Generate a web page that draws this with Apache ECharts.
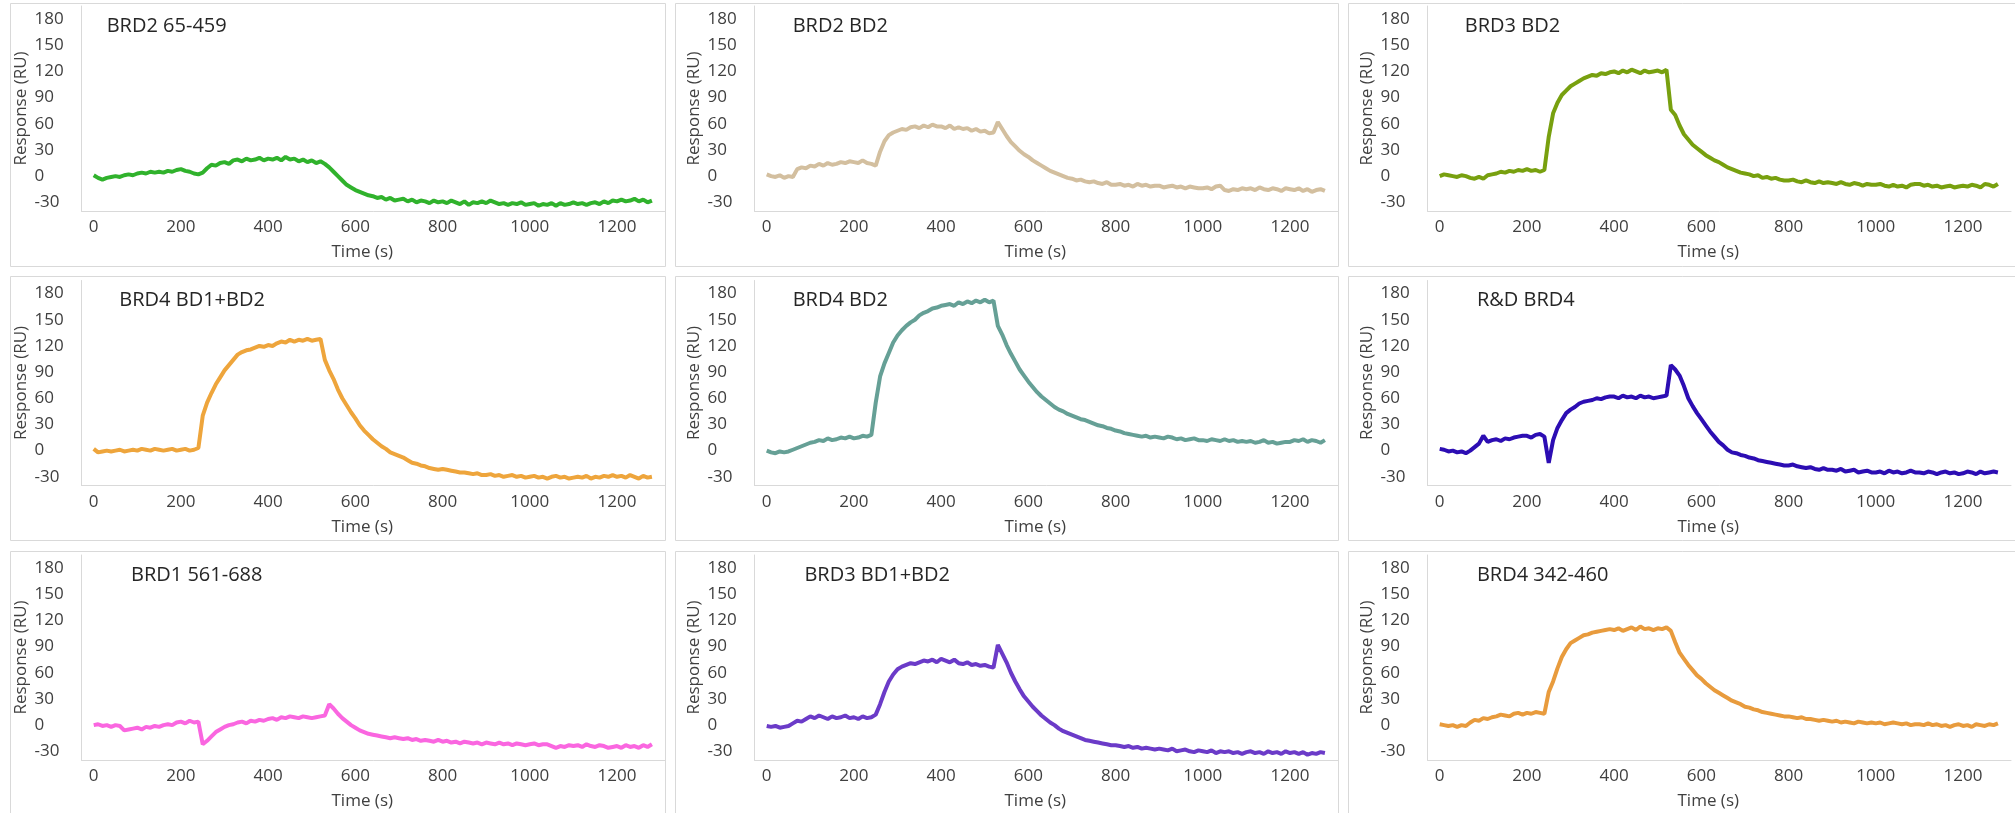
<!DOCTYPE html>
<html>
<head>
<meta charset="utf-8">
<script src="https://cdn.jsdelivr.net/npm/echarts@6/dist/echarts.min.js"></script>
<style>
  html, body { margin: 0; padding: 0; background: #fff; }
  #chart-container { width: 2015px; height: 813px; }
</style>
</head>
<body>
<div id="chart-container"></div>
<script>
// one reading every 10 s, 0..1280 s
var times = [];
for (var t = 0; t <= 1280; t += 10) times.push(t);

var xTicks = [0, 200, 400, 600, 800, 1000, 1200];
var yTicks = [-30, 0, 30, 60, 90, 120, 150, 180];

var names = ['BRD2 65-459', 'BRD2 BD2', 'BRD3 BD2',
             'BRD4 BD1+BD2', 'BRD4 BD2', 'R&D BRD4',
             'BRD1 561-688', 'BRD3 BD1+BD2', 'BRD4 342-460'];

// response (RU)
var brd2_65_459 = [1, -2, -4, -2, -1, 0, -1, 1, 2, 1,
  3, 4, 3, 5, 4, 5, 4, 6, 5, 7,
  8, 6, 5, 3, 2, 4, 9, 13, 12, 15,
  16, 14, 18, 19, 17, 20, 18, 19, 21, 18,
  20, 19, 21, 18, 22, 19, 20, 17, 19, 16,
  18, 15, 17, 14, 10, 5, 0, -5, -10, -13,
  -16, -18, -20, -22, -23, -25, -24, -27, -25, -28,
  -27, -26, -29, -27, -30, -28, -29, -31, -28, -30,
  -29, -31, -28, -30, -32, -29, -33, -30, -31, -29,
  -31, -28, -30, -32, -31, -33, -31, -32, -30, -33,
  -32, -31, -34, -32, -33, -31, -34, -31, -33, -32,
  -30, -32, -31, -33, -31, -30, -32, -29, -31, -28,
  -29, -27, -29, -28, -26, -29, -27, -30, -28];

var brd2_bd2 = [2, 0, -1, 1, -2, 0, -1, 8, 10, 9,
  12, 11, 14, 12, 15, 13, 14, 16, 15, 17,
  16, 15, 18, 15, 14, 12, 28, 40, 47, 50,
  52, 54, 53, 56, 57, 55, 58, 56, 59, 57,
  57, 55, 58, 54, 56, 54, 55, 52, 54, 51,
  52, 49, 50, 62, 54, 46, 39, 34, 29, 25,
  22, 18, 15, 12, 9, 6, 4, 2, 0, -2,
  -3, -5, -4, -6, -7, -6, -8, -9, -7, -10,
  -10, -9, -11, -10, -12, -9, -11, -10, -12, -11,
  -11, -13, -12, -11, -13, -12, -14, -12, -13, -14,
  -14, -13, -15, -12, -11, -16, -17, -15, -16, -14,
  -15, -14, -16, -13, -15, -16, -14, -15, -17, -14,
  -15, -16, -14, -17, -15, -18, -16, -15, -17];

var brd3_bd2 = [0, 2, 1, 0, -1, 1, 0, -2, -3, -1,
  -3, 1, 2, 3, 5, 4, 6, 5, 7, 6,
  8, 6, 7, 5, 7, 45, 72, 84, 93, 98,
  103, 106, 109, 112, 114, 116, 115, 118, 117, 119,
  120, 118, 121, 119, 122, 120, 118, 121, 119, 120,
  121, 119, 122, 76, 70, 58, 48, 42, 36, 32,
  28, 24, 21, 18, 16, 13, 10, 8, 6, 4,
  3, 2, 0, 1, -2, -1, -3, -2, -4, -5,
  -5, -4, -6, -7, -5, -7, -8, -6, -8, -7,
  -8, -9, -7, -9, -10, -8, -9, -11, -9, -10,
  -10, -9, -11, -12, -10, -12, -11, -13, -10, -9,
  -9, -11, -10, -12, -11, -13, -12, -11, -13, -12,
  -11, -12, -10, -11, -13, -9, -10, -12, -9];

var brd4_bd1_bd2 = [2, -2, -1, 0, -1, 0, 1, -1, 0, 1,
  0, 2, 1, 0, 2, 1, 0, 1, 2, 0,
  1, 2, 0, 1, 3, 40, 55, 66, 76, 84,
  92, 98, 104, 110, 113, 115, 116, 118, 120, 119,
  121, 120, 123, 125, 124, 127, 125, 127, 126, 128,
  126, 127, 128, 104, 92, 82, 70, 60, 52, 44,
  37, 29, 23, 18, 13, 9, 5, 2, -2, -4,
  -6, -8, -11, -14, -15, -17, -18, -20, -21, -22,
  -21, -22, -23, -24, -25, -25, -26, -27, -26, -28,
  -28, -27, -29, -28, -30, -29, -28, -30, -29, -31,
  -30, -29, -31, -30, -32, -30, -29, -31, -30, -32,
  -31, -30, -31, -29, -32, -30, -31, -29, -30, -28,
  -30, -29, -31, -28, -30, -32, -29, -31, -30];

var brd4_bd2 = [0, -2, -3, -1, -2, -1, 1, 3, 5, 7,
  9, 10, 12, 11, 14, 12, 13, 15, 14, 16,
  14, 15, 17, 16, 18, 55, 85, 100, 112, 124,
  132, 138, 143, 147, 150, 155, 158, 160, 163, 164,
  166, 167, 168, 166, 170, 168, 171, 169, 172, 170,
  173, 170, 172, 143, 133, 121, 111, 102, 93, 86,
  79, 73, 67, 62, 58, 54, 50, 47, 45, 42,
  40, 38, 36, 35, 33, 31, 29, 28, 26, 25,
  23, 22, 20, 19, 18, 17, 16, 17, 15, 16,
  15, 14, 16, 15, 13, 14, 12, 13, 14, 12,
  12, 11, 13, 12, 11, 13, 11, 12, 10, 11,
  10, 11, 9, 10, 12, 9, 10, 8, 9, 10,
  10, 12, 11, 13, 10, 12, 11, 9, 12];

var rd_brd4 = [2, 1, -1, 0, -2, -1, -3, 0, 4, 8,
  17, 10, 12, 13, 11, 14, 13, 15, 16, 17,
  17, 15, 18, 19, 16, -14, 12, 26, 35, 43,
  47, 50, 54, 56, 57, 58, 60, 59, 61, 62,
  62, 60, 63, 61, 62, 60, 63, 61, 62, 60,
  61, 62, 63, 98, 93, 86, 74, 60, 51, 43,
  36, 29, 22, 16, 10, 6, 1, -2, -3, -5,
  -6, -8, -9, -11, -12, -13, -14, -15, -16, -17,
  -17, -16, -18, -19, -20, -19, -21, -22, -20, -22,
  -22, -23, -21, -24, -23, -22, -25, -24, -23, -25,
  -25, -24, -26, -23, -25, -24, -26, -25, -23, -25,
  -25, -26, -24, -25, -27, -25, -24, -26, -25, -27,
  -26, -24, -25, -27, -24, -26, -25, -24, -25];

var brd1_561_688 = [0, 1, -1, 0, -2, 0, -1, -6, -5, -4,
  -3, -5, -2, -3, -1, -2, 0, 1, 0, 3,
  4, 2, 5, 3, 4, -22, -18, -13, -8, -5,
  -2, 0, 1, 3, 4, 2, 5, 4, 6, 5,
  7, 8, 6, 9, 8, 10, 9, 8, 10, 9,
  8, 9, 10, 11, 24, 19, 13, 8, 4, 0,
  -3, -6, -8, -10, -11, -12, -13, -14, -15, -14,
  -15, -16, -15, -17, -16, -18, -17, -18, -19, -17,
  -19, -18, -20, -19, -21, -19, -20, -21, -20, -22,
  -20, -21, -22, -20, -22, -21, -23, -21, -22, -23,
  -22, -21, -23, -22, -22, -24, -26, -24, -25, -23,
  -24, -23, -25, -22, -24, -25, -23, -24, -26, -25,
  -24, -26, -23, -25, -24, -26, -23, -25, -22];

var brd3_bd1_bd2 = [-1, -2, -1, -3, -2, -1, 2, 5, 4, 7,
  10, 8, 11, 9, 7, 10, 8, 9, 11, 8,
  9, 7, 10, 8, 9, 12, 24, 38, 50, 58,
  64, 67, 69, 71, 70, 72, 74, 73, 75, 72,
  76, 74, 72, 75, 71, 70, 72, 69, 70, 68,
  69, 67, 66, 92, 82, 72, 60, 50, 41, 33,
  27, 21, 16, 11, 7, 3, 0, -4, -7, -9,
  -11, -13, -15, -17, -18, -19, -20, -21, -22, -23,
  -23, -24, -25, -24, -26, -25, -27, -26, -27, -28,
  -27, -28, -29, -27, -30, -29, -28, -30, -31, -29,
  -30, -31, -29, -32, -30, -31, -30, -32, -31, -33,
  -31, -30, -32, -31, -33, -30, -32, -31, -33, -30,
  -32, -31, -33, -31, -34, -32, -33, -31, -32];

var brd4_342_460 = [1, 0, -1, 0, -2, 0, -1, 3, 6, 5,
  8, 7, 9, 10, 12, 11, 10, 13, 14, 12,
  14, 13, 15, 14, 13, 38, 50, 65, 78, 87,
  94, 97, 100, 103, 104, 106, 107, 108, 109, 110,
  109, 111, 108, 110, 112, 109, 113, 110, 111, 109,
  111, 110, 112, 108, 95, 83, 76, 69, 63, 57,
  53, 48, 44, 40, 37, 34, 31, 28, 26, 24,
  21, 20, 18, 17, 15, 14, 13, 12, 11, 10,
  10, 9, 8, 9, 7, 7, 6, 5, 6, 5,
  4, 5, 3, 4, 3, 2, 4, 3, 2, 3,
  2, 3, 1, 2, 3, 2, 1, 2, 0, 1,
  1, 0, 2, 0, 1, -1, 0, -2, 0, 1,
  -1, 0, -2, 1, 0, -1, 1, 0, 2];

var traces = [brd2_65_459, brd2_bd2, brd3_bd2,
              brd4_bd1_bd2, brd4_bd2, rd_brd4,
              brd1_561_688, brd3_bd1_bd2, brd4_342_460];

var colors = ['#30b22c', '#d3bf9f', '#78a00f',
              '#eea53c', '#66a096', '#2c0db3',
              '#fa66e0', '#6b3bc8', '#e89b3d'];

// layout of the 3x3 panels
var plotLeft = [81.5, 754.5, 1427.5];
var plotTop = [6, 280.5, 555];
var plotW = 583.5, plotH = 205;
var boxLeft = [10, 675, 1348], boxRight = [665, 1338, 2030];
var boxTop = [3, 276, 551], boxBottom = [266, 540, 830];
var titleX = [106.7, 792.7, 1464.8, 119.3, 792.7, 1476.9, 131, 804.4, 1476.9];

var font = "'Segoe UI', 'Open Sans', sans-serif";
var textColor = '#404040';

var dom = document.getElementById('chart-container');
var myChart = echarts.init(dom, null, {
  renderer: 'canvas',
  useDirtyRect: false
});

var grids = [], xAxes = [], yAxes = [], series = [], graphics = [];

for (var i = 0; i < 9; i++) {
  var c = i % 3, r = Math.floor(i / 3);

  graphics.push({
    type: 'rect', silent: true, z: -1,
    shape: { x: boxLeft[c] + 0.5, y: boxTop[r] + 0.5,
             width: boxRight[c] - boxLeft[c], height: boxBottom[r] - boxTop[r] },
    style: { fill: '#fff', stroke: '#d9d9d9', lineWidth: 1 }
  });
  graphics.push({
    type: 'text', z: 10,
    x: titleX[i], y: 26 + 274.5 * r,
    style: { text: names[i], font: '20px ' + font, fill: '#262626', verticalAlign: 'middle' }
  });

  grids.push({ left: plotLeft[c], top: plotTop[r], width: plotW, height: plotH });

  xAxes.push({
    type: 'value', gridIndex: i, min: -28, max: 1310,
    name: 'Time (s)', nameLocation: 'middle', nameGap: 33,
    nameTextStyle: { fontFamily: font, fontSize: 17, color: textColor, padding: [0, 22, 0, 0] },
    axisLine: { show: true, onZero: false, lineStyle: { color: '#d9d9d9', width: 1 } },
    axisTick: { show: false },
    splitLine: { show: false },
    axisLabel: { customValues: xTicks, margin: 8, fontFamily: font, fontSize: 17, color: textColor,
                 formatter: function (v) { return String(v); } }
  });

  yAxes.push({
    type: 'value', gridIndex: i, min: -40, max: 195,
    name: 'Response (RU)', nameLocation: 'middle', nameGap: 52,
    nameTextStyle: { fontFamily: font, fontSize: 17, color: textColor },
    axisLine: { show: true, onZero: false, lineStyle: { color: '#d9d9d9', width: 1 } },
    axisTick: { show: false },
    splitLine: { show: false },
    axisLabel: { customValues: yTicks, margin: 47, align: 'left',
                 fontFamily: font, fontSize: 17, color: textColor,
                 formatter: function (v) { return String(v); } }
  });

  var pts = traces[i].map(function (v, k) { return [times[k], v]; });
  series.push({
    name: names[i], type: 'line', xAxisIndex: i, yAxisIndex: i,
    data: pts, showSymbol: false, symbol: 'none', animation: false,
    lineStyle: { color: colors[i], width: 4 }
  });
}

var option = {
  backgroundColor: '#fff',
  animation: false,
  grid: grids,
  xAxis: xAxes,
  yAxis: yAxes,
  series: series,
  graphic: graphics
};

if (option && typeof option === 'object') {
  myChart.setOption(option);
}

window.addEventListener('resize', myChart.resize);
</script>
</body>
</html>
